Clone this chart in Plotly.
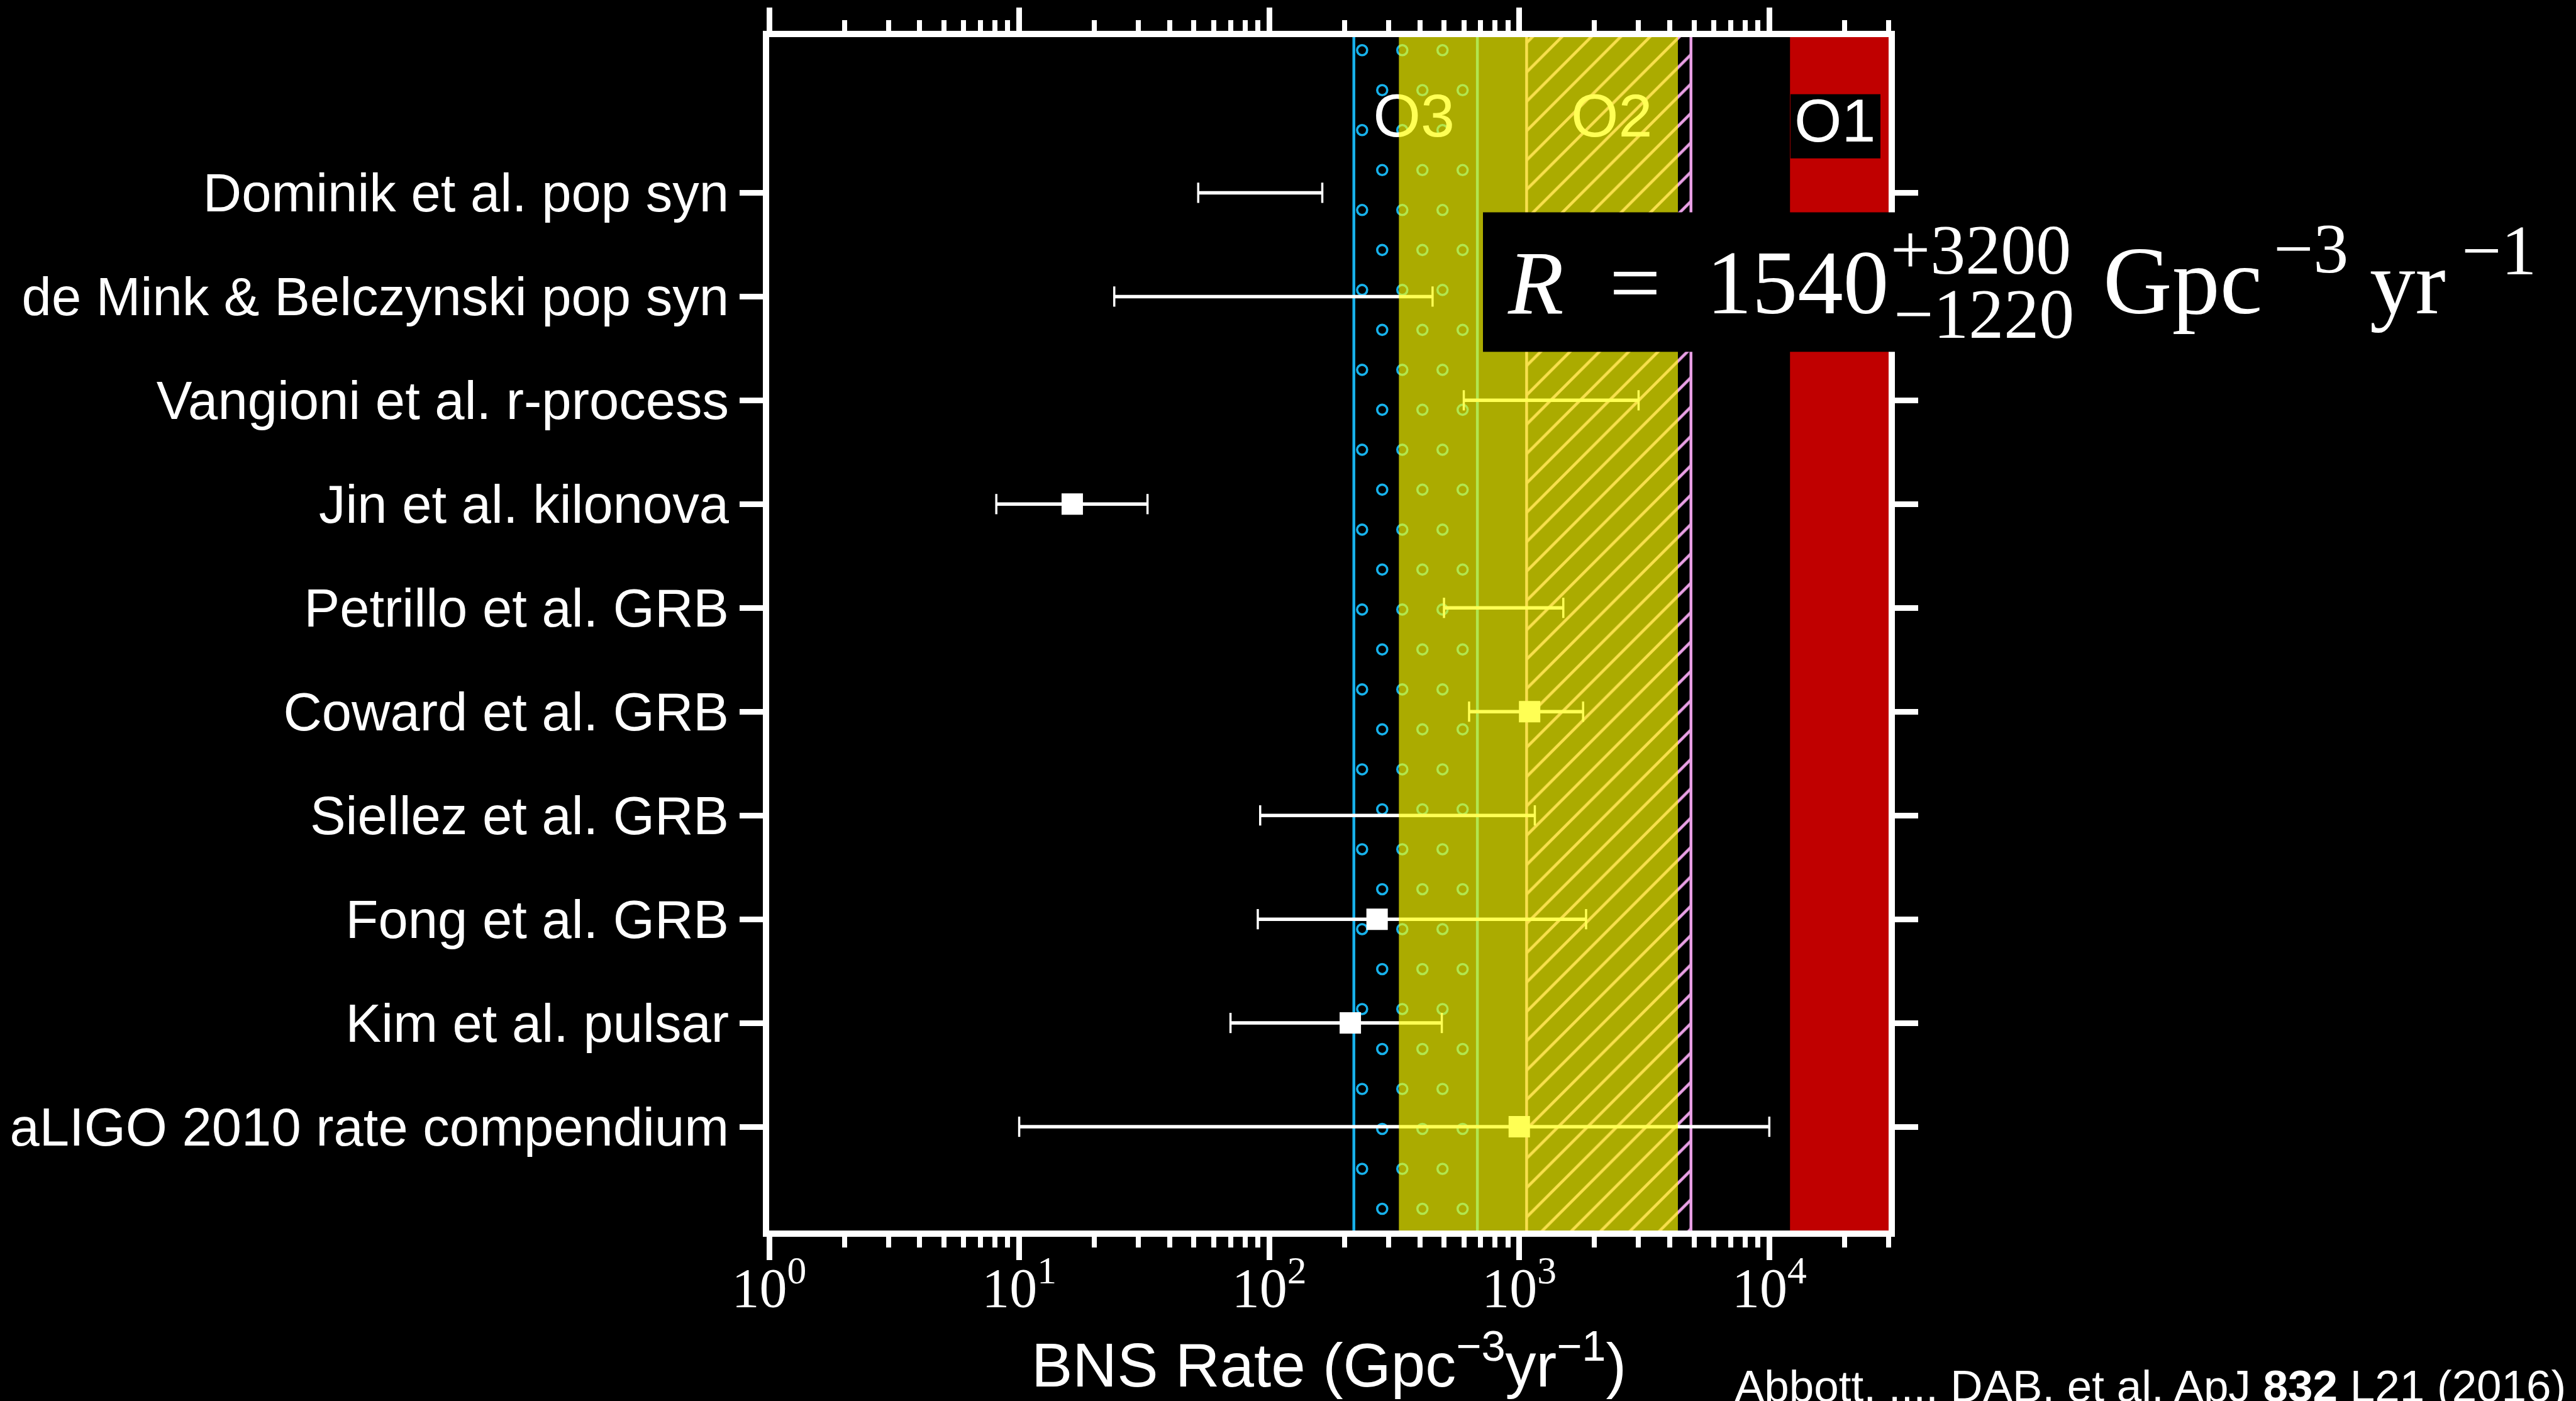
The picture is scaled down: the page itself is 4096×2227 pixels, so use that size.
import numpy as np
import plotly.graph_objects as go

# ---- data -------------------------------------------------------------
labels = [
    "Dominik et al. pop syn",
    "de Mink & Belczynski pop syn",
    "Vangioni et al. r-process",
    "Jin et al. kilonova",
    "Petrillo et al. GRB",
    "Coward et al. GRB",
    "Siellez et al. GRB",
    "Fong et al. GRB",
    "Kim et al. pulsar",
    "aLIGO 2010 rate compendium",
]
rate_low = [52, 24, 600, 8.1, 500, 630, 92, 90, 70, 10]
rate_high = [163, 450, 3000, 32.6, 1500, 1800, 1154, 1850, 490, 10000]
rate_mid = [None, None, None, 16.3, None, 1100, None, 270, 211, 1000]

ring_band = [218, 680]       # blue ring-hatched band
hatch_band = [1070, 4860]    # pink diagonal-hatched band
yellow_band = [330, 4310]    # translucent yellow band
red_band = [12100, 30000]    # O1 excluded region

run_names = ["O3", "O2"]
run_x = [379, 2343]
o1_name = "O1"

x_ticks = [1, 10, 100, 1000, 10000]
x_ticktext = ["10<sup>0</sup>", "10<sup>1</sup>", "10<sup>2</sup>", "10<sup>3</sup>", "10<sup>4</sup>"]
x_minor = [m * 10 ** d for d in range(0, 5) for m in range(2, 10) if m * 10 ** d <= 30000]

X_RANGE = [0, np.log10(30000)]
Y_RANGE = [-1, 10.5]

# ---- styles -----------------------------------------------------------
WHITE = "white"
BLUE = "#17b2ec"
PINK = "#eaa0e6"
RED = "#c00000"
YELLOW_OVER = "rgba(255,255,0,0.67)"
SANS = "Liberation Sans, Arial, sans-serif"
SERIF = "Liberation Serif, Times New Roman, serif"

W, H = 4096, 2227
ML, MR, MT, MB = 1223, 1093, 56, 271
PW = W - ML - MR
PH = H - MT - MB


def px_x(px):
    return (px - ML) / PW


def px_y(py):
    return (H - MB - py) / PH


ypos = list(range(len(labels) - 1, -1, -1))

fig = go.Figure()


def band_poly(lo, hi):
    return [lo, hi, hi, lo, lo], [Y_RANGE[0], Y_RANGE[0], Y_RANGE[1], Y_RANGE[1], Y_RANGE[0]]


def band_edges(lo, hi):
    return [lo, lo, None, hi, hi], [Y_RANGE[0], Y_RANGE[1], None, Y_RANGE[0], Y_RANGE[1]]


# red excluded region
bx, by = band_poly(*red_band)
fig.add_trace(go.Scatter(x=bx, y=by, mode="lines", fill="toself", fillcolor=RED,
                         line=dict(width=0), hoverinfo="skip", showlegend=False))

# pink diagonal hatch
bx, by = band_poly(*hatch_band)
fig.add_trace(go.Scatter(x=bx, y=by, mode="lines", fill="toself", fillcolor="rgba(0,0,0,0)",
                         fillpattern=dict(shape="/", fgcolor=PINK, bgcolor="rgba(0,0,0,0)",
                                          fgopacity=1, size=33, solidity=0.14),
                         line=dict(width=0), hoverinfo="skip", showlegend=False))
ex, ey = band_edges(*hatch_band)
fig.add_trace(go.Scatter(x=ex, y=ey, mode="lines", line=dict(color=PINK, width=4.5),
                         hoverinfo="skip", showlegend=False))

# blue ring hatch (staggered grid of open circles)
ring_step = 0.1608
row_step = 0.385
lo_l, hi_l = np.log10(ring_band)
rx, ry = [], []
for k in range(-12, 22):
    yrow = 2.674 + k * row_step
    if yrow <= Y_RANGE[0] + 0.04 or yrow >= Y_RANGE[1] - 0.04:
        continue
    start = lo_l + 0.033 + (0.0804 if k % 2 else 0.0)
    xl = np.arange(start, hi_l - 0.015, ring_step)
    rx += list(10 ** xl)
    ry += [yrow] * len(xl)
fig.add_trace(go.Scatter(x=rx, y=ry, mode="markers",
                         marker=dict(symbol="circle-open", size=16, color=BLUE,
                                     line=dict(color=BLUE, width=3.6)),
                         hoverinfo="skip", showlegend=False))
ex, ey = band_edges(*ring_band)
fig.add_trace(go.Scatter(x=ex, y=ey, mode="lines", line=dict(color=BLUE, width=4.5),
                         hoverinfo="skip", showlegend=False))

# rate ranges with end caps
xs, ys = [], []
for lo, hi, y in zip(rate_low, rate_high, ypos):
    xs += [lo, hi, None]
    ys += [y, y, None]
fig.add_trace(go.Scatter(x=xs, y=ys, mode="lines+markers",
                         line=dict(color=WHITE, width=5.5),
                         marker=dict(symbol="line-ns", size=23, color=WHITE,
                                     line=dict(color=WHITE, width=3.5)),
                         hoverinfo="skip", showlegend=False))

# central values
mx = [m for m in rate_mid if m is not None]
my = [y for m, y in zip(rate_mid, ypos) if m is not None]
fig.add_trace(go.Scatter(x=mx, y=my, mode="markers",
                         marker=dict(symbol="square", size=34, color=WHITE, line=dict(width=0)),
                         hoverinfo="skip", showlegend=False))

# run labels that sit under the yellow band
fig.add_trace(go.Scatter(x=run_x, y=[9.69] * len(run_x), mode="text", text=run_names,
                         textposition="middle center",
                         textfont=dict(family=SANS, size=97, color=WHITE),
                         hoverinfo="skip", showlegend=False))

# translucent yellow band on top
bx, by = band_poly(*yellow_band)
fig.add_trace(go.Scatter(x=bx, y=by, mode="lines", fill="toself", fillcolor=YELLOW_OVER,
                         line=dict(width=0), hoverinfo="skip", showlegend=False))

shapes = [
    # O1 label box
    dict(type="rect", xref="paper", yref="paper", x0=px_x(2847), x1=px_x(2990),
         y0=px_y(249), y1=px_y(147), fillcolor="black", line=dict(width=0), layer="above"),
    # rate result box
    dict(type="rect", xref="paper", yref="paper", x0=px_x(2358), x1=px_x(4200),
         y0=px_y(557), y1=px_y(335), fillcolor="black", line=dict(width=0), layer="above"),
]

F_MAIN = 145
F_SUP = 112
ASC = 0.3375  # baseline offset below box centre (serif)


def serif_piece(text, left_px, base_px, size):
    return dict(text=text, xref="paper", yref="paper", x=px_x(left_px),
                y=px_y(base_px - ASC * size), xanchor="left", yanchor="middle",
                showarrow=False, font=dict(family=SERIF, size=size, color=WHITE))


annotations = [
    dict(text=o1_name, xref="paper", yref="paper", x=px_x(2917), y=px_y(189),
         xanchor="center", yanchor="middle", showarrow=False,
         font=dict(family=SANS, size=97, color=WHITE)),
    serif_piece("<i>R</i>\u00a0 =\u00a0 1540", 2395, 496, F_MAIN),
    serif_piece("+3200", 3004, 432, F_SUP),
    serif_piece("\u22121220", 3009, 534, F_SUP),
    serif_piece("Gpc", 3342, 496, 152),
    serif_piece("\u22123", 3613, 430, F_SUP),
    serif_piece("yr", 3766, 496, F_MAIN),
    serif_piece("\u22121", 3912, 433, F_SUP),
    # x-axis title
    dict(text="BNS Rate (Gpc<sup>\u22123</sup>yr<sup>\u22121</sup>)", xref="paper", yref="paper",
         x=0.5, y=px_y(2163), xanchor="center", yanchor="middle", showarrow=False,
         font=dict(family=SANS, size=98, color=WHITE)),
    # citation
    dict(text="Abbott, ..., DAB, et al. ApJ <b>832</b> L21 (2016)", xref="paper", yref="paper",
         x=px_x(4082), y=px_y(2228 - 0.3465 * 71), xanchor="right", yanchor="middle",
         showarrow=False, font=dict(family=SANS, size=71, color=WHITE)),
]

fig.update_layout(
    width=W, height=H, autosize=False,
    margin=dict(l=ML, r=MR, t=MT, b=MB, pad=0),
    paper_bgcolor="black", plot_bgcolor="black",
    showlegend=False,
    shapes=shapes,
    annotations=annotations,
    xaxis=dict(
        type="log", range=X_RANGE,
        tickmode="array", tickvals=x_ticks, ticktext=x_ticktext,
        ticks="outside", ticklen=37, tickwidth=9, tickcolor=WHITE,
        ticklabelstandoff=-32,
        minor=dict(tickmode="array", tickvals=x_minor, ticks="outside",
                   ticklen=17, tickwidth=8, tickcolor=WHITE, showgrid=False),
        showline=True, linecolor=WHITE, linewidth=10, mirror="ticks",
        showgrid=False, zeroline=False,
        tickfont=dict(family=SERIF, size=88, color=WHITE),
    ),
    yaxis=dict(
        range=Y_RANGE,
        tickmode="array", tickvals=ypos, ticktext=labels,
        ticks="outside", ticklen=37, tickwidth=9, tickcolor=WHITE,
        showline=True, linecolor=WHITE, linewidth=10, mirror="ticks",
        showgrid=False, zeroline=False,
        tickfont=dict(family=SANS, size=85, color=WHITE),
    ),
)

fig.write_html("out.html")
